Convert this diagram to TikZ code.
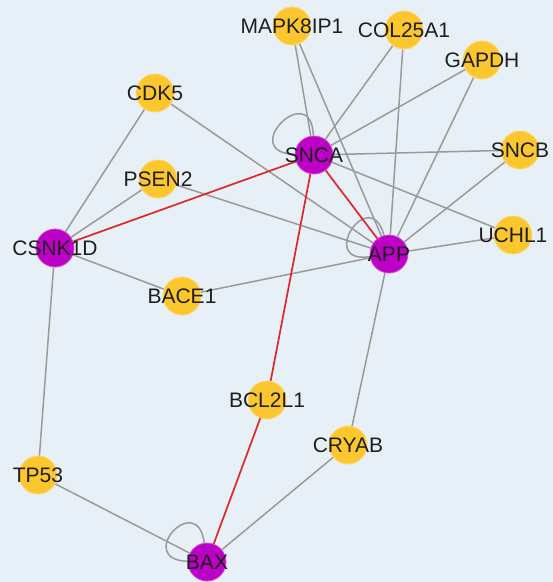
\documentclass[tikz,border=0pt]{standalone}
\usepackage{fontspec}
\setmainfont{Liberation Sans}
\usetikzlibrary{backgrounds}
\definecolor{bgc}{HTML}{E8F0F7}
\definecolor{yel}{HTML}{FCC72E}
\definecolor{pur}{HTML}{BC00C6}
\definecolor{edg}{HTML}{9A9A9A}
\definecolor{redg}{HTML}{E0262A}
\definecolor{txt}{HTML}{1E1E1E}
\tikzset{
  gene/.style={circle, inner sep=0pt, minimum size=38pt, draw=#1!70!white, line width=0.8pt, fill=#1},
  lab/.style={font=\fontsize{21}{22}\selectfont, text=txt},
  link/.style={draw=edg, line width=1.5pt},
  rlink/.style={draw=redg, line width=1.7pt},
}
\begin{document}
\begin{tikzpicture}[x=1pt,y=-1pt]
\useasboundingbox (0,0) rectangle (553,582);
\def\gn#1#2#3#4{\node[gene=#3, label={[lab]center:#4}] (#1) at #2 {};}
\gn{mapk}{(292,26)}{yel}{MAPK8IP1}
\gn{col}{(404,30)}{yel}{COL25A1}
\gn{gapdh}{(482,60)}{yel}{GAPDH}
\gn{cdk}{(155,93)}{yel}{CDK5}
\gn{snca}{(314,155)}{pur}{SNCA}
\gn{sncb}{(520,150)}{yel}{SNCB}
\gn{psen}{(158,179)}{yel}{PSEN2}
\gn{uchl}{(513,235)}{yel}{UCHL1}
\gn{csnk}{(55,248)}{pur}{CSNK1D}
\gn{app}{(389,254)}{pur}{APP}
\gn{bace}{(182,296)}{yel}{BACE1}
\gn{bcl}{(267,400)}{yel}{BCL2L1}
\gn{cryab}{(348,445)}{yel}{CRYAB}
\gn{tp}{(38,475)}{yel}{TP53}
\gn{bax}{(207,562)}{pur}{BAX}
\begin{pgfonlayer}{background}
\fill[bgc] (0,0) rectangle (553,582);
\draw[link] (mapk) -- (snca);
\draw[link] (mapk) -- (app);
\draw[link] (col) -- (snca);
\draw[link] (col) -- (app);
\draw[link] (gapdh) -- (snca);
\draw[link] (gapdh) -- (app);
\draw[link] (snca) -- (sncb);
\draw[link] (sncb) -- (app);
\draw[link] (snca) -- (uchl);
\draw[link] (uchl) -- (app);
\draw[link] (cdk) -- (app);
\draw[link] (psen) -- (app);
\draw[link] (cdk) -- (csnk);
\draw[link] (psen) -- (csnk);
\draw[link] (csnk) -- (bace);
\draw[link] (bace) -- (app);
\draw[link] (csnk) -- (tp);
\draw[link] (tp) -- (bax);
\draw[link] (cryab) -- (bax);
\draw[link] (cryab) -- (app);
\draw[link] (snca.92) .. controls +(-92:58) and +(-178:58) .. (snca.178);
\draw[link] (app.105) .. controls +(-105:54) and +(-188:54) .. (app.188);
\draw[link] (bax.98) .. controls +(-98:54) and +(-178:54) .. (bax.178);
\draw[rlink] (snca) -- (app);
\draw[rlink] (snca) -- (csnk);
\draw[rlink] (snca) -- (bcl);
\draw[rlink] (bcl) -- (bax);
\end{pgfonlayer}
\end{tikzpicture}
\end{document}
